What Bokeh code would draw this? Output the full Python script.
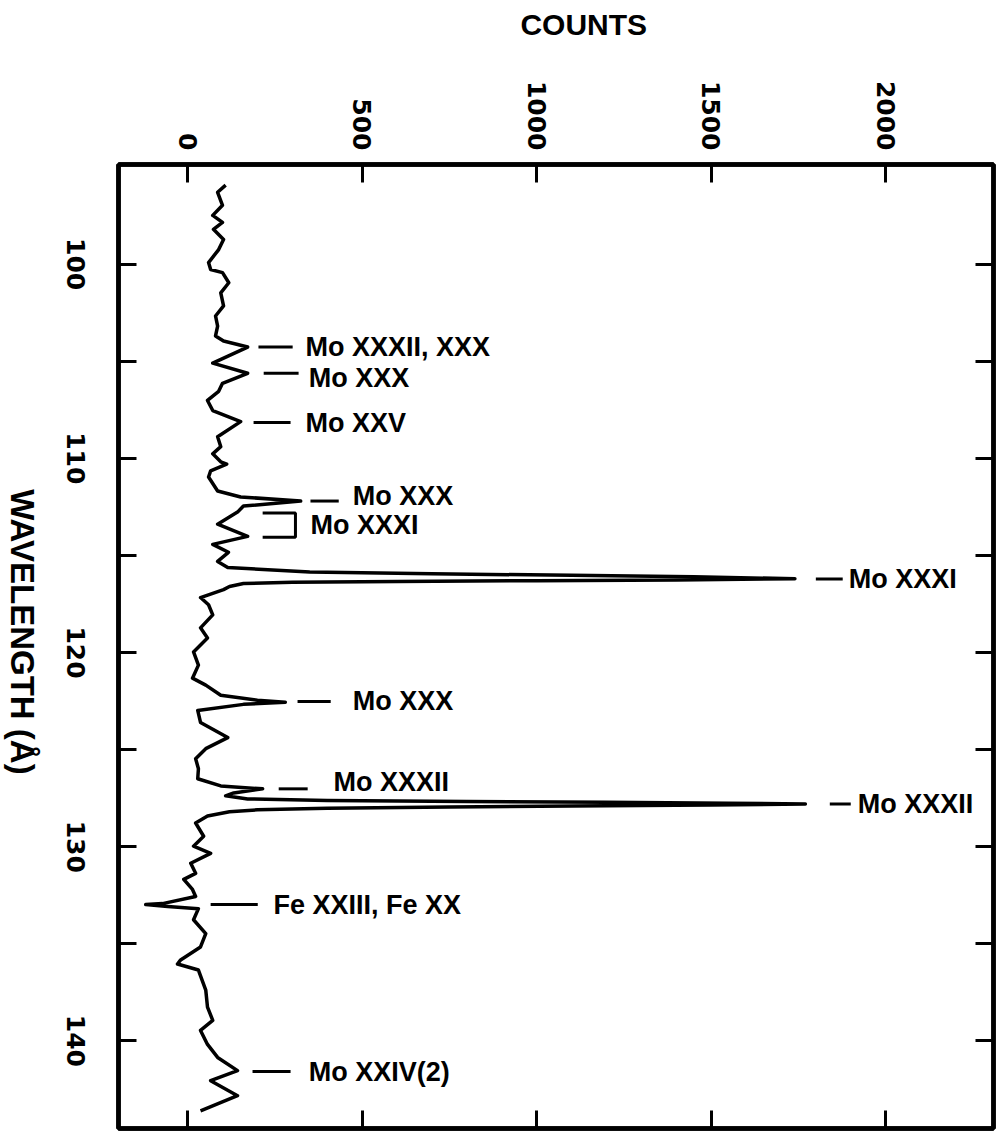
import math
from bokeh.plotting import figure
from bokeh.layouts import column, row
from bokeh.models import Range1d, LinearAxis, FixedTicker, ColumnDataSource
from bokeh.embed import file_html
from bokeh.resources import INLINE
from bokeh.core.properties import value

# ---- spectrum (wavelength in Angstrom, counts) ----
wavelength = [95.93, 96.30, 96.97, 97.49, 97.85, 98.21, 98.73, 99.25, 99.92, 100.28,
              100.44, 100.96, 101.48, 102.15, 102.67, 103.19, 103.70, 103.96, 104.27, 105.10,
              105.62, 106.14, 106.55, 107.02, 107.54, 108.11, 108.89, 109.40, 109.77, 110.18,
              110.30, 110.65, 110.96, 111.68, 111.99, 112.20, 112.46, 112.77, 113.39, 114.02,
              114.43, 114.84, 115.31, 115.62, 115.85, 115.95, 116.02, 116.10, 116.20, 116.26,
              116.30, 116.34, 116.38, 116.45, 116.60, 116.76, 117.17, 117.54, 118.06, 118.73,
              119.25, 119.97, 120.65, 121.32, 121.68, 122.20, 122.46, 122.56, 122.67, 122.98,
              123.60, 124.38, 124.95, 125.47, 125.98, 126.50, 126.87, 127.02, 127.23, 127.38,
              127.54, 127.62, 127.67, 127.71, 127.76, 127.80, 127.85, 127.90, 127.95, 128.02,
              128.10, 128.20, 128.42, 128.78, 129.46, 129.97, 130.34, 130.85, 131.37, 131.68,
              132.20, 132.56, 132.93, 132.98, 133.08, 133.19, 133.76, 134.48, 135.16, 135.83,
              136.04, 136.35, 137.38, 138.26, 138.94, 139.46, 140.18, 140.85, 141.53, 142.05,
              142.82, 143.60]
counts = [109, 86, 100, 72, 100, 74, 103, 89, 60, 66,
          100, 118, 95, 103, 80, 86, 80, 103, 172, 72,
          172, 100, 89, 57, 72, 152, 86, 95, 72, 95,
          112, 66, 60, 86, 152, 324, 160, 143, 86, 172,
          72, 117, 86, 115, 350, 700, 1100, 1450, 1740, 1400,
          1000, 600, 300, 160, 120, 103, 37, 60, 72, 37,
          57, 17, 31, 14, 52, 95, 200, 280, 160, 29,
          37, 115, 52, 23, 31, 29, 95, 215, 132, 109,
          172, 400, 800, 1200, 1550, 1770, 1500, 1100, 750, 400,
          200, 120, 57, 23, 46, 17, 66, 9, 23, -11,
          14, 23, -72, -120, -57, 31, 17, 52, 37, -20,
          -29, 31, 52, 57, 72, 37, 57, 86, 143, 66,
          143, 37]

# ---- line identifications ----
ann_text = ["Mo XXXII, XXX", "Mo XXX", "Mo XXV", "Mo XXX", "Mo XXXI",
            "Mo XXX", "Mo XXXII", "Mo XXXII", "Fe XXIII, Fe XX", "Mo XXIV(2)"]
ann_wl = [104.27, 105.62, 108.15, 112.20, 116.22, 122.52, 127.02, 127.80, 132.98, 141.58]
ann_x0 = [203, 218, 189, 352, 1800, 315, 261, 1840, 66, 186]
ann_x1 = [301, 318, 295, 433, 1877, 410, 344, 1900, 201, 295]
ann_tx = [338, 347, 338, 473, 1894, 473, 418, 1920, 246, 347]
ann_ty = [104.27, 105.88, 108.20, 111.94, 116.22, 122.52, 126.66, 127.80, 132.98, 141.60]

# bracket for the Mo XXXI pair
br_text = "Mo XXXI"
br_wl_top = 112.82
br_wl_bot = 114.06
br_x0 = 215
br_x1 = 309
br_tx = 352
br_ty = 113.45

count_ticks = [0, 500, 1000, 1500, 2000]
wl_ticks = [100, 105, 110, 115, 120, 125, 130, 135, 140]
wl_label_vals = [100, 110, 120, 130, 140]
wl_label_text = ["100", "110", "120", "130", "140"]

x_title = "COUNTS"
y_title = "WAVELENGTH (Å)"

LABEL_FONT = "Liberation Sans"
TICK_FONT = "DejaVu Sans"

x_range = Range1d(-198, 2309)
y_range = Range1d(144.51, 94.87)

# ---------------- main plot ----------------
p = figure(width=905, height=1088, x_range=x_range, y_range=y_range,
           x_axis_location="above", output_backend="svg", toolbar_location=None,
           min_border_left=20, min_border_top=116, min_border_right=10, min_border_bottom=8)
p.grid.visible = False
p.outline_line_color = "black"
p.outline_line_width = 4.5
p.background_fill_color = "white"
p.border_fill_color = "white"

def style_axis(ax, ticker, show_labels):
    ax.ticker = FixedTicker(ticks=ticker)
    ax.major_tick_in = 18
    ax.major_tick_out = 0
    ax.major_tick_line_width = 3
    ax.major_tick_line_color = "black"
    ax.minor_tick_line_color = None
    ax.axis_line_width = 4.5
    ax.axis_line_color = "black"
    if show_labels:
        ax.major_label_text_font = TICK_FONT
        ax.major_label_text_font_style = "bold"
        ax.major_label_text_font_size = "25px"
        ax.major_label_text_color = "black"
        ax.major_label_orientation = -math.pi / 2
    else:
        ax.major_label_overrides = {t: "" for t in ticker}
        ax.major_label_standoff = 0

top = p.xaxis[0]
style_axis(top, count_ticks, True)
top.major_label_standoff = 14

left = p.yaxis[0]
style_axis(left, wl_ticks, False)

right = LinearAxis()
style_axis(right, wl_ticks, False)
p.add_layout(right, "right")

bottom = LinearAxis()
style_axis(bottom, count_ticks, False)
p.add_layout(bottom, "below")

# spectrum
p.line(counts, wavelength, line_color="black", line_width=3.5, line_join="round")

# identifications
src = ColumnDataSource(dict(x0=ann_x0, x1=ann_x1, y=ann_wl, tx=ann_tx, ty=ann_ty, t=ann_text))
p.segment(x0="x0", x1="x1", y0="y", y1="y", source=src, line_color="black", line_width=3)
p.text(x="tx", y="ty", text="t", source=src, text_font=value(LABEL_FONT),
       text_font_style="bold", text_font_size="27px", text_baseline="middle",
       text_align="left", text_color="black")

p.line([br_x0, br_x1, br_x1, br_x0], [br_wl_top, br_wl_top, br_wl_bot, br_wl_bot],
       line_color="black", line_width=3)
p.text(x=[br_tx], y=[br_ty], text=[br_text], text_font=value(LABEL_FONT),
       text_font_style="bold", text_font_size="27px", text_baseline="middle",
       text_align="left", text_color="black")

# ---------------- left strip: wavelength tick labels + title ----------------
lf = figure(width=98, height=1088, x_range=Range1d(0, 98), y_range=y_range,
            x_axis_location=None, y_axis_location=None,
            output_backend="svg", toolbar_location=None,
            min_border_left=0, min_border_right=0, min_border_top=116, min_border_bottom=8)
lf.grid.visible = False
lf.outline_line_color = None
lf.background_fill_color = "white"
lf.border_fill_color = "white"
lf.text(x=[75] * len(wl_label_vals), y=wl_label_vals, text=wl_label_text,
        angle=-math.pi / 2, text_font=value(TICK_FONT), text_font_style="bold",
        text_font_size="25px", text_align="center", text_baseline="middle",
        text_color="black")
lf.text(x=[22], y=[118.94], text=[y_title], angle=-math.pi / 2,
        text_font=value(LABEL_FONT), text_font_style="bold", text_font_size="33px",
        text_align="center", text_baseline="middle", text_color="black")

# ---------------- top strip: counts title ----------------
tf = figure(width=1003, height=48, x_range=x_range, y_range=Range1d(0, 48),
            x_axis_location=None, y_axis_location=None,
            output_backend="svg", toolbar_location=None,
            min_border_left=118, min_border_right=10, min_border_top=0, min_border_bottom=0)
tf.grid.visible = False
tf.outline_line_color = None
tf.background_fill_color = "white"
tf.border_fill_color = "white"
tf.text(x=[1135], y=[24], text=[x_title], text_font=value(LABEL_FONT),
        text_font_style="bold", text_font_size="30px", text_align="center",
        text_baseline="middle", text_color="black")

layout = column(tf, row(lf, p, spacing=0), spacing=0)
open("out.html", "w").write(file_html(layout, INLINE))
